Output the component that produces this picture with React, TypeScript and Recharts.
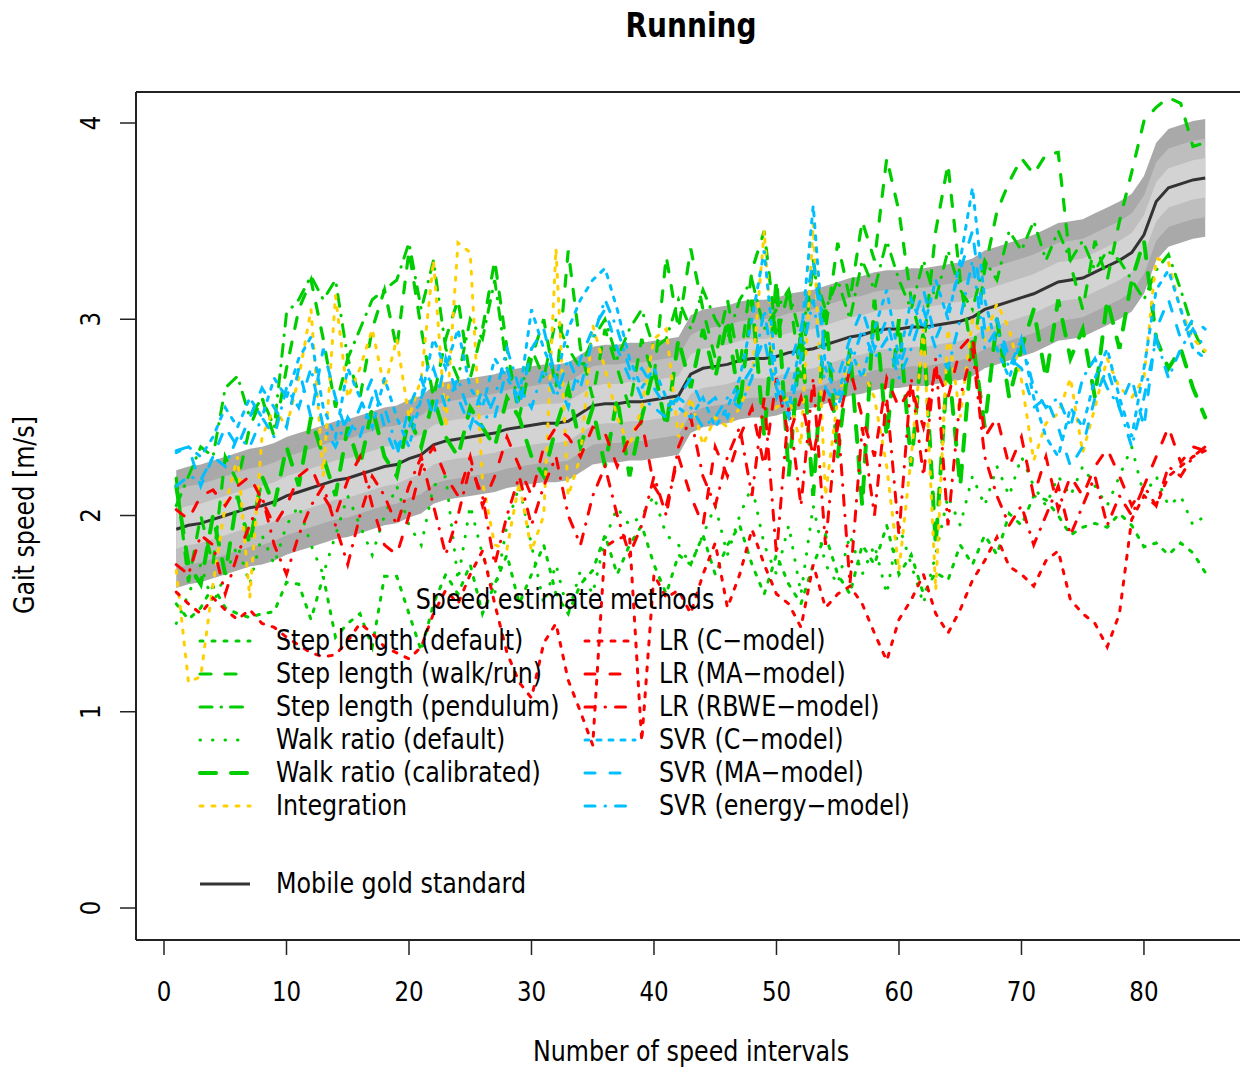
import React from 'react'
import { ComposedChart, Line, Area, XAxis, YAxis, ReferenceLine } from 'recharts'

// Running — speed estimates per interval vs. the mobile gold standard

// ── Data ───────────────────────────────────────────────────
const INTERVALS = Array.from({ length: 85 }, (_, k) => k + 1)

const GOLD = [
  1.93, 1.95, 1.96, 1.98, 2.0, 2.02, 2.04, 2.05, 2.07, 2.1,
  2.12, 2.14, 2.16, 2.18, 2.19, 2.21, 2.23, 2.25, 2.26, 2.29,
  2.31, 2.36, 2.38, 2.39, 2.4, 2.41, 2.42, 2.44, 2.45, 2.46,
  2.47, 2.47, 2.48, 2.52, 2.56, 2.57, 2.57, 2.58, 2.58, 2.59,
  2.6, 2.61, 2.72, 2.75, 2.76, 2.77, 2.79, 2.8, 2.8, 2.81,
  2.83, 2.84, 2.85, 2.87, 2.89, 2.91, 2.92, 2.94, 2.95, 2.95,
  2.96, 2.96, 2.97, 2.98, 2.99, 3.01, 3.05, 3.07, 3.09, 3.11,
  3.13, 3.16, 3.19, 3.2, 3.21, 3.24, 3.27, 3.3, 3.34, 3.43,
  3.6, 3.67, 3.69, 3.71, 3.72,
]

// tolerance bands around the gold standard (outer → inner)
const BAND_OFFSETS = [0.3, 0.2, 0.1]
const BAND_COLORS = ['#a9a9a9', '#bebebe', '#d3d3d3']

const SL_DEFAULT = [
  1.55, 1.47, 1.53, 1.64, 1.53, 1.5, 1.48, 1.5, 1.51, 1.66,
  1.65, 1.47, 1.69, 1.38, 1.45, 1.5, 1.33, 1.69, 1.69, 1.5,
  1.31, 1.55, 1.7, 1.6, 1.75, 1.5, 1.65, 1.8, 1.55, 1.7,
  1.85, 1.6, 1.5, 1.65, 1.72, 1.9, 1.7, 1.85, 1.95, 1.75,
  1.6, 1.8, 1.75, 1.9, 1.7, 1.85, 1.95, 1.75, 1.6, 1.8,
  1.65, 1.55, 1.75, 1.9, 1.7, 1.6, 1.85, 1.75, 1.95, 1.7,
  1.8, 1.6, 1.71, 1.67, 1.85, 1.75, 1.9, 1.8, 2.01, 1.95,
  2.1, 2.08, 2.0, 1.9, 1.94, 1.96, 1.94, 2.01, 1.95, 1.84,
  1.86, 1.8, 1.86, 1.81, 1.71,
]
const SL_WALKRUN = [
  2.19, 1.66, 2.0, 1.75, 2.3, 2.17, 2.45, 2.6, 2.4, 2.75,
  3.05, 3.2, 2.9, 2.55, 2.8, 2.6, 2.95, 3.15, 2.85, 3.35,
  2.95, 2.6, 2.9, 3.1, 2.7, 2.95, 3.3, 2.85, 2.5, 2.8,
  3.0, 2.65, 3.35, 2.85, 2.6, 2.95, 2.75, 2.55, 2.9, 2.7,
  3.32, 2.95, 3.36, 3.05, 2.8, 3.1, 2.75, 3.25, 3.45, 2.9,
  3.15, 2.7, 3.3, 2.95, 3.39, 3.1, 3.5, 3.3, 3.82, 3.55,
  3.1, 2.85, 3.45, 3.79, 3.2, 2.8, 3.25, 3.55, 3.7, 3.82,
  3.74, 3.84, 3.85, 3.28, 3.05, 3.4, 3.2, 3.5, 3.75, 4.01,
  4.08, 4.13, 4.1, 3.88, 3.9,
]
const SL_PENDULUM = [
  2.05, 2.2, 2.35, 2.3, 2.65, 2.71, 2.5, 2.6, 2.45, 3.03,
  3.1, 3.22, 3.1, 3.2, 2.8, 2.95, 3.1, 3.15, 3.2, 3.39,
  3.05, 3.3, 2.85, 2.7, 3.0, 2.9, 3.2, 2.75, 2.6, 2.85,
  2.7, 3.0, 2.85, 2.75, 2.9, 3.0, 2.8, 2.95, 3.05, 2.85,
  2.9, 3.1, 2.95, 3.15, 3.0, 2.9, 3.1, 3.2, 2.95, 3.05,
  3.15, 2.9, 3.25, 3.05, 3.2, 3.0, 3.3, 3.15, 3.4, 3.2,
  3.05, 3.3, 3.1, 3.35, 3.15, 3.05, 3.3, 3.2, 3.45, 3.35,
  3.5, 3.3, 3.45, 3.3, 3.4, 3.25, 3.35, 3.3, 3.2, 3.1,
  3.25, 3.33, 3.15, 2.95, 2.82,
]
const WR_DEFAULT = [
  1.45, 1.6, 1.75, 1.55, 1.7, 1.85, 1.65, 1.9, 1.75, 1.95,
  2.05, 1.85, 1.7, 1.9, 2.1, 1.95, 1.8, 2.0, 2.15, 1.95,
  1.85, 2.15, 2.2, 1.67, 2.05, 1.8, 1.6, 1.95, 2.15, 1.85,
  1.55, 1.75, 1.5, 1.72, 1.6, 1.88, 2.04, 1.95, 2.0, 2.1,
  1.9, 1.85, 1.75, 1.9, 2.05, 1.8, 2.0, 2.15, 1.85, 1.7,
  1.95, 1.6, 2.05, 1.75, 1.65, 1.9, 1.7, 1.85, 1.6, 1.95,
  1.75, 1.55, 1.8, 2.1, 1.95, 2.2, 2.05, 2.25, 2.1, 2.3,
  2.15, 2.05, 2.2, 2.1, 2.25, 2.15, 2.05, 2.2, 2.35, 2.1,
  2.2, 2.05, 2.1, 1.95, 2.0,
]
const WR_CALIB = [
  2.15, 1.75, 1.65, 2.0, 1.7, 2.1, 1.85, 2.2, 2.05, 2.35,
  2.15, 2.5, 2.3, 2.1, 2.45, 2.25, 2.55, 2.3, 2.2, 2.5,
  2.35, 2.6, 2.4, 2.3, 2.55, 2.45, 2.35, 2.6, 2.5, 2.3,
  2.2, 2.45, 2.65, 2.35, 2.55, 2.25, 2.6, 2.2, 2.5, 2.75,
  2.45, 2.9, 2.65, 2.95, 2.7, 3.0, 2.55, 3.1, 2.4, 3.2,
  2.2, 2.95, 2.1, 3.05, 2.3, 2.85, 2.05, 3.1, 2.4, 3.0,
  2.25, 2.95, 1.85, 2.8, 2.15, 2.9, 2.45, 3.0, 2.6, 2.85,
  3.05, 2.7, 3.1, 2.8, 2.95, 2.6, 3.1, 2.85, 3.2, 3.4,
  2.9, 2.75, 2.85, 2.65, 2.5,
]
const INTEGRATION = [
  1.72, 1.15, 1.18, 1.65, 2.05, 2.3, 1.58, 2.4, 2.55, 2.45,
  2.7, 3.05, 2.2, 3.12, 2.6, 2.75, 2.95, 2.65, 2.9, 2.5,
  2.7, 3.3, 2.45, 3.39, 3.34, 2.17, 1.85, 1.83, 2.17, 1.82,
  2.0, 3.36, 2.1, 2.3, 2.97, 2.75, 2.5, 2.35, 2.55, 2.9,
  2.95, 2.4, 2.6, 2.36, 2.5, 2.45, 2.55, 2.7, 3.45, 2.55,
  2.6, 2.36, 3.49, 2.1, 2.6, 2.8, 2.75, 2.6, 2.25, 1.72,
  2.3, 2.95, 1.62, 2.95, 2.5, 3.0, 2.9, 3.08, 2.95, 2.69,
  2.28, 2.47, 2.52, 2.7, 2.32, 2.55, 2.8, 2.65, 2.6, 2.7,
  3.31, 3.29, 3.05, 2.9, 2.84,
]
const LR_C = [
  1.61, 1.55, 1.5, 1.58, 1.52, 1.47, 1.52, 1.45, 1.43, 1.38,
  1.34, 1.3, 1.28, 1.29, 1.36, 1.45, 1.4, 1.33, 1.3, 1.27,
  1.33, 1.5, 1.62, 1.55, 1.7, 1.82, 1.55, 1.3, 1.15, 1.07,
  1.35, 1.45, 1.16, 1.0, 0.83, 1.84, 1.88, 1.9, 0.85, 1.7,
  1.58, 1.62, 1.5, 1.7, 1.86, 1.53, 1.7, 1.93, 1.75, 1.6,
  1.55, 1.43, 1.75, 1.53, 1.6, 1.64, 1.55, 1.4, 1.26, 1.47,
  1.57, 1.7, 1.5, 1.4, 1.52, 1.67, 1.77, 1.89, 1.74, 1.7,
  1.64, 1.77, 1.82, 1.57, 1.5, 1.45, 1.33, 1.5, 1.98, 2.1,
  2.05, 2.2, 2.25, 2.3, 2.33,
]
const LR_MA = [
  2.03, 1.98, 2.1, 2.13, 2.05, 2.15, 2.2, 2.08, 1.95, 2.05,
  2.2, 2.25, 2.1, 2.0, 2.18, 2.3, 2.05, 1.85, 1.8, 2.0,
  2.25, 2.35, 2.2, 2.1, 2.3, 2.05, 2.2, 2.4, 2.25, 2.1,
  2.35, 2.45, 2.4, 2.3, 2.45, 2.42, 2.25, 2.4, 2.48, 2.15,
  2.05, 2.3, 2.1, 1.95, 2.35, 2.2, 2.4, 2.55, 2.25, 2.7,
  2.4, 2.6, 2.3, 2.65, 2.45, 2.75, 2.5, 2.3, 2.7, 2.55,
  2.65, 2.45, 2.75, 2.6, 2.85, 2.92, 2.4, 2.5, 2.25, 2.4,
  2.1, 2.3, 2.03, 2.2, 2.1, 2.25, 2.34, 2.2, 2.05, 2.15,
  2.3, 2.45, 2.27, 2.35, 2.33,
]
const LR_RBWE = [
  1.75, 1.7, 1.9, 1.85, 1.6, 1.8, 1.95, 2.1, 1.85, 1.7,
  1.9, 2.05, 2.15, 1.95, 1.75, 2.0, 2.2, 2.1, 1.95, 2.15,
  2.3, 2.05, 1.8, 2.0, 2.25, 2.1, 1.75, 2.0, 2.2, 1.95,
  2.15, 2.3, 2.0, 1.85, 2.1, 2.25, 2.0, 1.8, 1.95, 2.2,
  2.0, 2.35, 2.5, 2.2, 2.05, 2.3, 2.45, 2.1, 2.6, 1.8,
  2.55, 2.05, 2.7, 1.85, 2.5, 1.65, 2.45, 2.0, 2.6, 1.9,
  2.7, 2.2, 2.8, 1.95, 2.6, 2.85, 2.3, 2.1, 1.95, 2.05,
  1.85, 2.0, 2.15, 1.9, 2.05, 2.2, 1.95, 2.1, 2.0, 2.15,
  2.05, 2.25, 2.2, 2.3, 2.35,
]
const SVR_C = [
  2.32, 2.35, 2.3, 2.4, 2.55, 2.45, 2.6, 2.5, 2.7, 2.6,
  2.8, 2.91, 2.55, 2.4, 2.75, 2.6, 2.45, 2.7, 2.5, 2.35,
  2.6, 2.9, 2.75, 2.95, 2.65, 2.55, 2.8, 2.7, 2.6, 3.05,
  2.85, 2.7, 2.95, 3.1, 3.2, 3.26, 3.05, 2.8, 2.65, 2.75,
  2.6, 2.55, 2.5, 2.6, 2.45, 2.55, 2.7, 3.0, 3.35, 2.7,
  2.55, 2.9, 3.58, 2.75, 2.6, 2.85, 2.7, 2.95, 3.15, 2.8,
  3.1, 2.95, 3.2, 3.0, 3.3, 3.67, 3.1, 2.85, 2.7, 2.9,
  2.6, 2.4, 2.3, 2.55, 2.45, 2.7, 2.85, 2.6, 2.4, 2.75,
  3.15, 3.25, 3.05, 2.85, 2.8,
]
const SVR_MA = [
  2.33, 2.35, 2.15, 2.3, 2.45, 2.35, 2.5, 2.65, 2.55, 2.45,
  2.75, 2.5, 2.85, 2.6, 2.4, 2.55, 2.7, 2.45, 2.3, 2.55,
  2.7, 2.5, 2.8, 2.6, 2.45, 2.65, 2.5, 2.75, 2.55, 2.85,
  2.95, 2.7, 2.55, 2.8, 2.95, 3.05, 2.85, 2.7, 2.75, 2.65,
  2.55, 2.6, 2.7, 2.55, 2.6, 2.5, 2.65, 2.75, 2.9, 2.6,
  2.75, 2.95, 3.3, 2.8, 2.7, 2.9, 3.05, 2.85, 3.0, 2.75,
  2.95, 3.15, 2.9, 3.05, 3.25, 3.45, 2.95, 3.0, 2.8, 2.75,
  2.55, 2.6, 2.45, 2.25, 2.35, 2.6, 2.75, 2.55, 2.7, 2.45,
  2.95, 3.1, 2.9, 3.0, 2.95,
]
const SVR_ENERGY = [
  2.15, 2.2, 2.18, 2.3, 2.25, 2.4, 2.35, 2.5, 2.4, 2.65,
  2.55, 2.75, 2.45, 2.35, 2.5, 2.4, 2.6, 2.55, 2.35, 2.45,
  2.6, 2.75, 2.55, 2.7, 2.5, 2.45, 2.6, 2.85, 2.65, 2.55,
  2.75, 2.6, 2.8, 2.65, 2.9, 3.1, 2.95, 2.75, 2.6, 2.55,
  2.5, 2.6, 2.55, 2.45, 2.5, 2.6, 2.55, 2.7, 3.05, 2.65,
  2.5, 2.8, 3.1, 2.65, 2.55, 2.75, 2.95, 2.8, 2.9, 2.7,
  2.85, 3.05, 2.85, 2.75, 3.0, 3.3, 2.85, 2.95, 2.75, 2.9,
  2.65, 2.55, 2.6, 2.45, 2.7, 2.8, 2.65, 2.55, 2.35, 2.6,
  2.9, 2.7, 2.85, 2.95, 2.85,
]

const X_TICKS = [0, 10, 20, 30, 40, 50, 60, 70, 80]
const Y_TICKS = [0, 1, 2, 3, 4]

// ── Series styles ──────────────────────────────────────────
const GREEN = '#00cd00'
const GOLDC = '#ffd000'
const RED = '#ff0000'
const CYAN = '#00bfff'

interface Series {
  key: string
  name: string
  values: number[]
  color: string
  width: number
  dash: string
}

const LEFT_SERIES: Series[] = [
  { key: 'slDefault', name: 'Step length (default)', values: SL_DEFAULT, color: GREEN, width: 3, dash: '3 9' },
  { key: 'slWalkRun', name: 'Step length (walk/run)', values: SL_WALKRUN, color: GREEN, width: 3.2, dash: '11 14' },
  { key: 'slPendulum', name: 'Step length (pendulum)', values: SL_PENDULUM, color: GREEN, width: 3, dash: '12 9 0.5 9' },
  { key: 'wrDefault', name: 'Walk ratio (default)', values: WR_DEFAULT, color: GREEN, width: 3, dash: '0.5 12' },
  { key: 'wrCalib', name: 'Walk ratio (calibrated)', values: WR_CALIB, color: GREEN, width: 4, dash: '16 15' },
  { key: 'integration', name: 'Integration', values: INTEGRATION, color: GOLDC, width: 3, dash: '3 9' },
]
const RIGHT_SERIES: Series[] = [
  { key: 'lrC', name: 'LR (C\u2212model)', values: LR_C, color: RED, width: 3, dash: '4 9' },
  { key: 'lrMA', name: 'LR (MA\u2212model)', values: LR_MA, color: RED, width: 3, dash: '10 15' },
  { key: 'lrRBWE', name: 'LR (RBWE\u2212model)', values: LR_RBWE, color: RED, width: 3, dash: '10 10 0.5 10' },
  { key: 'svrC', name: 'SVR (C\u2212model)', values: SVR_C, color: CYAN, width: 3, dash: '4 8' },
  { key: 'svrMA', name: 'SVR (MA\u2212model)', values: SVR_MA, color: CYAN, width: 3, dash: '10 15' },
  { key: 'svrEnergy', name: 'SVR (energy\u2212model)', values: SVR_ENERGY, color: CYAN, width: 3, dash: '10 10 0.5 10' },
]
const ALL_SERIES = [...LEFT_SERIES, ...RIGHT_SERIES]

const data = INTERVALS.map((i, k) => {
  const row: Record<string, any> = { i, gold: GOLD[k] }
  BAND_OFFSETS.forEach((o, b) => {
    row['band' + b] = [GOLD[k] - o, GOLD[k] + o]
  })
  ALL_SERIES.forEach((s) => {
    row[s.key] = s.values[k]
  })
  return row
})

// ── Layout ─────────────────────────────────────────────────
const W = 1240
const H = 1070
const X_DOMAIN: [number, number] = [-2.286, 87.84]
const Y_DOMAIN: [number, number] = [-0.163, 4.158]
const FONT = '"DejaVu Sans", Verdana, sans-serif'
const SX = 0.85 // narrow lettering like the original

function CText({
  x, y, size, rot = 0, anchor = 'start', weight = 'normal', children,
}: {
  x: number; y: number; size: number; rot?: number; anchor?: string; weight?: string; children: React.ReactNode
}) {
  return (
    <text
      transform={`translate(${x},${y}) rotate(${rot}) scale(${SX},1)`}
      fontSize={size}
      fontFamily={FONT}
      fontWeight={weight}
      textAnchor={anchor}
      fill="#000"
    >
      {children}
    </text>
  )
}

function XTick(props: any) {
  return <CText x={props.x} y={1001} size={27} anchor="middle">{props.payload.value}</CText>
}
function YTick(props: any) {
  return <CText x={100} y={props.y} size={27} rot={-90} anchor="middle">{props.payload.value}</CText>
}

const ROW_Y = [641, 674, 707, 740, 773, 806]

function LegendBlock() {
  const col = (list: Series[], lx: number, tx: number) =>
    list.map((s, r) => (
      <g key={s.key}>
        <line x1={lx} x2={lx + 50} y1={ROW_Y[r]} y2={ROW_Y[r]} stroke={s.color}
          strokeWidth={s.width} strokeDasharray={s.dash} strokeLinecap="round" />
        <CText x={tx} y={ROW_Y[r] + 9} size={28}>{s.name}</CText>
      </g>
    ))
  return (
    <g>
      <CText x={565} y={609} size={28} anchor="middle">Speed estimate methods</CText>
      {col(LEFT_SERIES, 200, 276)}
      {col(RIGHT_SERIES, 585, 659)}
      <line x1={200} x2={250} y1={884} y2={884} stroke="#333" strokeWidth={3} />
      <CText x={276} y={893} size={28}>Mobile gold standard</CText>
    </g>
  )
}

// ── Component ──────────────────────────────────────────────
export default function App() {
  return (
    <div style={{ position: 'absolute', left: 0, top: 0, width: W, height: H, background: '#fff', overflow: 'hidden' }}>
      <ComposedChart width={W} height={H} data={data} margin={{ top: 92, right: 0, bottom: 0, left: 0 }}>
        <XAxis
          type="number"
          dataKey="i"
          domain={X_DOMAIN}
          allowDataOverflow
          ticks={X_TICKS}
          tickSize={15}
          height={130}
          axisLine={{ stroke: '#222', strokeWidth: 2 }}
          tickLine={{ stroke: '#222', strokeWidth: 1.5 }}
          tick={<XTick />}
        />
        <YAxis
          type="number"
          domain={Y_DOMAIN}
          allowDataOverflow
          ticks={Y_TICKS}
          tickSize={16}
          width={136}
          axisLine={{ stroke: '#222', strokeWidth: 2 }}
          tickLine={{ stroke: '#222', strokeWidth: 1.5 }}
          tick={<YTick />}
        />
        <ReferenceLine y={Y_DOMAIN[1]} stroke="#222" strokeWidth={2} />
        {BAND_OFFSETS.map((_, b) => (
          <Area
            key={'band' + b}
            type="linear"
            dataKey={'band' + b}
            stroke="none"
            fill={BAND_COLORS[b]}
            fillOpacity={1}
            dot={false}
            activeDot={false}
            isAnimationActive={false}
          />
        ))}
        <Line type="linear" dataKey="gold" stroke="#333" strokeWidth={3} dot={false} activeDot={false} isAnimationActive={false} />
        {ALL_SERIES.map((s) => (
          <Line
            key={s.key}
            type="linear"
            dataKey={s.key}
            stroke={s.color}
            strokeWidth={s.width}
            strokeDasharray={s.dash}
            strokeLinecap="round"
            dot={false}
            activeDot={false}
            isAnimationActive={false}
          />
        ))}
      </ComposedChart>
      <svg width={W} height={H} style={{ position: 'absolute', left: 0, top: 0, pointerEvents: 'none' }}>
        <CText x={691} y={37} size={33} anchor="middle" weight="bold">Running</CText>
        <CText x={691} y={1061} size={28} anchor="middle">Number of speed intervals</CText>
        <CText x={34} y={515} size={28} rot={-90} anchor="middle">Gait speed [m/s]</CText>
        <LegendBlock />
      </svg>
    </div>
  )
}
